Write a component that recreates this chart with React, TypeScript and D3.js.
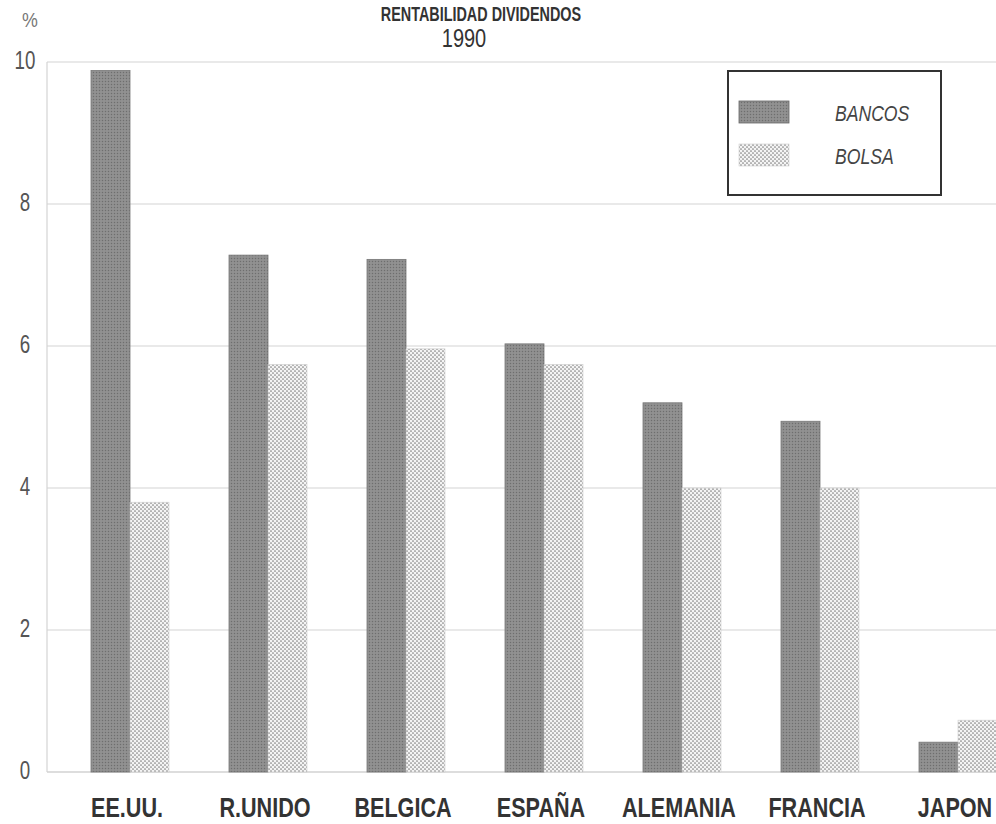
import React from "react";
import * as d3 from "d3";

const categories = ["EE.UU.", "R.UNIDO", "BELGICA", "ESPAÑA", "ALEMANIA", "FRANCIA", "JAPON"];
const bancos = [9.88, 7.28, 7.22, 6.03, 5.2, 4.94, 0.42];
const bolsa = [3.8, 5.74, 5.96, 5.74, 4.0, 4.0, 0.73];
const seriesNames = ["BANCOS", "BOLSA"];
const yTicks = [0, 2, 4, 6, 8, 10];
const titleLines = ["RENTABILIDAD DIVIDENDOS", "1990"];

const W = 996, H = 824;
const FONT = "'Liberation Sans', Arial, sans-serif";

function NText(props: { x: number; y: number; anchor?: string; size: number; sx?: number; weight?: string; italic?: boolean; fill: string; children: React.ReactNode }) {
  const { x, y, anchor = "middle", size, sx = 0.8, weight = "normal", italic = false, fill, children } = props;
  return (
    <text transform={`translate(${x},${y}) scale(${sx},1)`} textAnchor={anchor} fontFamily={FONT}
      fontWeight={weight} fontStyle={italic ? "italic" : "normal"} fontSize={size} fill={fill}>
      {children}
    </text>
  );
}

export default function App() {
  const x = d3.scaleBand<string>().domain(categories).range([61, 1027]).paddingInner(0);
  const y = d3.scaleLinear().domain([0, 10]).range([772, 62]);
  const bw = 39;
  const sub = d3.scaleBand<string>().domain(seriesNames).range([0, bw * 2]);

  return (
    <div style={{ width: W, height: H, overflow: "hidden" }}>
      <style>{`html,body{margin:0;padding:0;overflow:hidden}`}</style>
      <svg width={W} height={H} style={{ display: "block", background: "#fff" }}>
        <defs>
          <pattern id="pBancos" width="3" height="3" patternUnits="userSpaceOnUse">
            <rect width="3" height="3" fill="#8c8c8c" />
            <rect x="0" y="0" width="1" height="1" fill="#6e6e6e" />
            <rect x="1.5" y="1.5" width="1" height="1" fill="#a0a0a0" />
          </pattern>
          <pattern id="pBolsa" width="4" height="4" patternUnits="userSpaceOnUse">
            <rect width="4" height="4" fill="#f4f4f4" />
            <circle cx="1" cy="1" r="0.85" fill="#808080" />
            <circle cx="3" cy="3" r="0.85" fill="#808080" />
          </pattern>
        </defs>

        {/* title */}
        <NText x={481} y={21} size={20} sx={0.72} weight="bold" fill="#333">{titleLines[0]}</NText>
        <NText x={464} y={47} size={25} sx={0.8} fill="#333">{titleLines[1]}</NText>
        <NText x={30} y={27} size={21} sx={0.85} fill="#777">%</NText>

        {/* gridlines */}
        {yTicks.map((t) => (
          <g key={t}>
            <line x1={47} x2={W} y1={y(t)} y2={y(t)} stroke={t === 0 ? "#bbb" : "#d4d4d4"} strokeWidth={1.2} />
            <NText x={25} y={y(t) + 7} size={25} sx={0.75} fill="#555">{t}</NText>
          </g>
        ))}
        <line x1={47} x2={47} y1={y(10)} y2={y(0)} stroke="#d4d4d4" strokeWidth={1.2} />

        {/* bars */}
        {categories.map((c, i) => {
          const cx = (x(c) as number) + x.bandwidth() / 2 - bw;
          return (
            <g key={c}>
              <rect x={cx + (sub("BANCOS") as number)} y={y(bancos[i])} width={bw} height={y(0) - y(bancos[i])}
                fill="url(#pBancos)" stroke="#777" strokeWidth={0.8} />
              <rect x={cx + (sub("BOLSA") as number)} y={y(bolsa[i])} width={bw} height={y(0) - y(bolsa[i])}
                fill="url(#pBolsa)" stroke="#ccc" strokeWidth={0.6} />
              <NText x={(x(c) as number) + x.bandwidth() / 2 - 3} y={817} size={27} sx={0.8} weight="bold" fill="#333">{c}</NText>
            </g>
          );
        })}

        {/* legend */}
        <rect x={728} y={71} width={213} height={124} fill="#fff" stroke="#333" strokeWidth={2} />
        <rect x={739} y={101} width={50} height={22} fill="url(#pBancos)" stroke="#666" strokeWidth={0.8} />
        <rect x={739} y={144} width={50} height={22} fill="url(#pBolsa)" stroke="#ccc" strokeWidth={0.6} />
        <NText x={835} y={121} anchor="start" size={22} sx={0.8} italic fill="#444">{seriesNames[0]}</NText>
        <NText x={835} y={164} anchor="start" size={22} sx={0.8} italic fill="#444">{seriesNames[1]}</NText>
      </svg>
    </div>
  );
}
